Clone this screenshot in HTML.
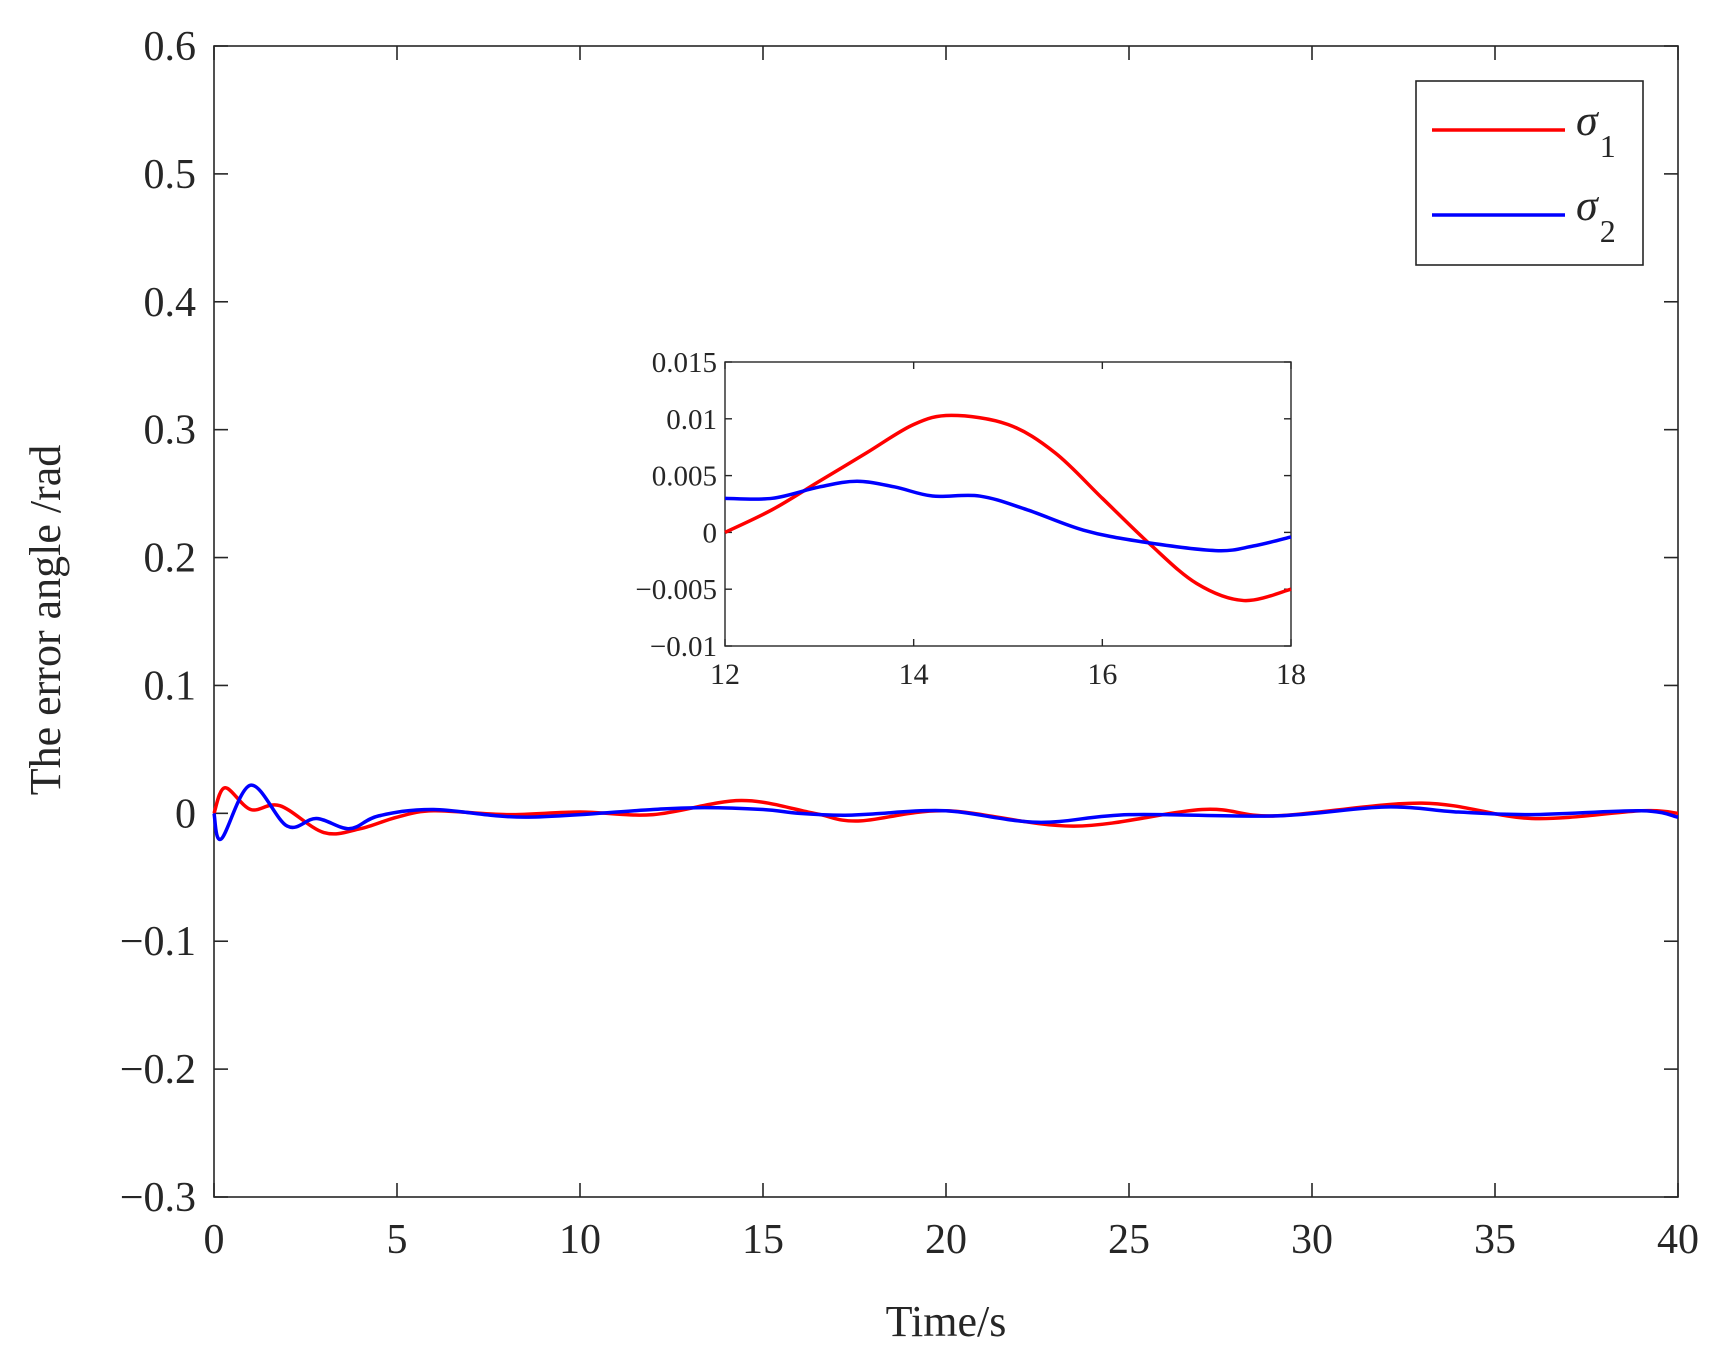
<!DOCTYPE html>
<html><head><meta charset="utf-8"><style>
html,body{margin:0;padding:0;background:#fff;}
svg{display:block;font-family:"Liberation Serif",serif;}
</style></head><body>
<svg id="chart" width="1722" height="1362" viewBox="0 0 1722 1362"></svg>
<script>
const xTicks=[0,5,10,15,20,25,30,35,40];
const yTicks=[-0.3,-0.2,-0.1,0,0.1,0.2,0.3,0.4,0.5,0.6];
const yTickLabels=["\u22120.3","\u22120.2","\u22120.1","0","0.1","0.2","0.3","0.4","0.5","0.6"];
const t1=[0,0.3,1,1.8,3,4,5,6,8,10,12,14.4,16.4,17.6,20,23.5,27,29,33,36,39,40];
const s1=[0,0.02,0.003,0.006,-0.015,-0.012,-0.003,0.002,-0.001,0.001,-0.001,0.01,0,-0.006,0.002,-0.01,0.003,-0.002,0.008,-0.004,0.002,0];
const t2=[0,0.2,1,2,2.8,3.7,4.5,6,8.5,12,13.4,15,16,17.2,18,20,22.5,25,29,32,34,36,39,40];
const s2=[0,-0.02,0.022,-0.01,-0.004,-0.012,-0.002,0.003,-0.003,0.003,0.0045,0.003,0,-0.0015,-0.0005,0.002,-0.007,-0.001,-0.002,0.005,0.001,-0.001,0.002,-0.003];
const insetXTicks=[12,14,16,18];
const insetYTicks=[-0.01,-0.005,0,0.005,0.01,0.015];
const insetYTickLabels=["\u22120.01","\u22120.005","0","0.005","0.01","0.015"];
const it1=[12,12.5,13,13.5,14,14.4,15,15.5,16,16.5,17,17.5,18];
const is1=[0,0.002,0.0045,0.007,0.0095,0.0103,0.0095,0.007,0.003,-0.001,-0.0045,-0.006,-0.005];
const it2=[12,12.5,13,13.4,13.8,14.2,14.7,15.2,15.8,16.4,17.2,17.6,18];
const is2=[0.003,0.003,0.004,0.0045,0.004,0.0032,0.0032,0.002,0.0002,-0.0008,-0.0016,-0.0012,-0.0004];

const NS="http://www.w3.org/2000/svg";
const svg=document.getElementById('chart');
function mk(tag,attrs,parent){const e=document.createElementNS(NS,tag);for(const k in attrs)e.setAttribute(k,attrs[k]);(parent||svg).appendChild(e);return e;}
function smooth(pts){let d=`M${pts[0][0]},${pts[0][1]}`;for(let i=0;i<pts.length-1;i++){const p0=pts[Math.max(0,i-1)],p1=pts[i],p2=pts[i+1],p3=pts[Math.min(pts.length-1,i+2)];const c1=[p1[0]+(p2[0]-p0[0])/6,p1[1]+(p2[1]-p0[1])/6],c2=[p2[0]-(p3[0]-p1[0])/6,p2[1]-(p3[1]-p1[1])/6];d+=` C${c1[0]},${c1[1]} ${c2[0]},${c2[1]} ${p2[0]},${p2[1]}`;}return d;}

// main axes
const L=214,R=1678,T=46,B=1197;
const X=v=>L+(v-0)/40*(R-L), Y=v=>B-(v+0.3)/0.9*(B-T);
let el;
el=mk('rect',{x:L,y:T,width:R-L,height:B-T,fill:'#fff',stroke:'#262626','stroke-width':1.6});


xTicks.forEach(v=>{
  mk('line',{x1:X(v),x2:X(v),y1:B,y2:B-14,stroke:'#262626','stroke-width':1.6});
  mk('line',{x1:X(v),x2:X(v),y1:T,y2:T+14,stroke:'#262626','stroke-width':1.6});
  const t=mk('text',{x:X(v),y:B+56,'font-size':42,'text-anchor':'middle',fill:'#262626'});t.textContent=v;
  
  
});
yTicks.forEach((v,i)=>{
  mk('line',{x1:L,x2:L+14,y1:Y(v),y2:Y(v),stroke:'#262626','stroke-width':1.6});
  mk('line',{x1:R,x2:R-14,y1:Y(v),y2:Y(v),stroke:'#262626','stroke-width':1.6});
  const t=mk('text',{x:L-18,y:Y(v)+14,'font-size':42,'text-anchor':'end',fill:'#262626'});t.textContent=yTickLabels[i];
  
  
});
el=mk('text',{x:(L+R)/2,y:1336,'font-size':44,'text-anchor':'middle',fill:'#262626'});el.textContent='Time/s';


el=mk('text',{x:60,y:620,'font-size':44,'text-anchor':'middle',fill:'#262626',transform:'rotate(-90 60 620)'});el.textContent='The error angle /rad';


el=mk('path',{d:smooth(t1.map((t,i)=>[X(t),Y(s1[i])])),fill:'none',stroke:'#ff0000','stroke-width':3.5});


el=mk('path',{d:smooth(t2.map((t,i)=>[X(t),Y(s2[i])])),fill:'none',stroke:'#0000ff','stroke-width':3.5});



// legend
const lg=mk('g',{});


mk('rect',{x:1416,y:81,width:227,height:184,fill:'#fff',stroke:'#262626','stroke-width':1.6},lg);
mk('line',{x1:1432,x2:1565,y1:130,y2:130,stroke:'#ff0000','stroke-width':3.5},lg);
mk('line',{x1:1432,x2:1565,y1:215,y2:215,stroke:'#0000ff','stroke-width':3.5},lg);
el=mk('text',{x:1576,y:135,'font-size':44,'font-style':'italic',fill:'#262626'},lg);el.innerHTML='σ<tspan font-size="32" font-style="normal" dx="2" dy="22">1</tspan>';


el=mk('text',{x:1576,y:220,'font-size':44,'font-style':'italic',fill:'#262626'},lg);el.innerHTML='σ<tspan font-size="32" font-style="normal" dx="2" dy="22">2</tspan>';



// inset
const iL=725,iR=1291,iT=362,iB=646;
const IX=v=>iL+(v-12)/6*(iR-iL), IY=v=>iB-(v+0.01)/0.025*(iB-iT);
const ig=mk('g',{});


mk('rect',{x:iL,y:iT,width:iR-iL,height:iB-iT,fill:'#fff',stroke:'#262626','stroke-width':1.4},ig);
insetXTicks.forEach(v=>{
  mk('line',{x1:IX(v),x2:IX(v),y1:iB,y2:iB-7,stroke:'#262626','stroke-width':1.4},ig);
  mk('line',{x1:IX(v),x2:IX(v),y1:iT,y2:iT+7,stroke:'#262626','stroke-width':1.4},ig);
  const t=mk('text',{x:IX(v),y:iB+38,'font-size':30,'text-anchor':'middle',fill:'#262626'},ig);t.textContent=v;
  
  
});
insetYTicks.forEach((v,i)=>{
  mk('line',{x1:iL,x2:iL+7,y1:IY(v),y2:IY(v),stroke:'#262626','stroke-width':1.4},ig);
  mk('line',{x1:iR,x2:iR-7,y1:IY(v),y2:IY(v),stroke:'#262626','stroke-width':1.4},ig);
  const t=mk('text',{x:iL-8,y:IY(v)+10,'font-size':29,'text-anchor':'end',fill:'#262626'},ig);t.textContent=insetYTickLabels[i];
  
  
});
el=mk('path',{d:smooth(it1.map((t,i)=>[IX(t),IY(is1[i])])),fill:'none',stroke:'#ff0000','stroke-width':3.5},ig);


el=mk('path',{d:smooth(it2.map((t,i)=>[IX(t),IY(is2[i])])),fill:'none',stroke:'#0000ff','stroke-width':3.5},ig);


</script>
</body></html>
